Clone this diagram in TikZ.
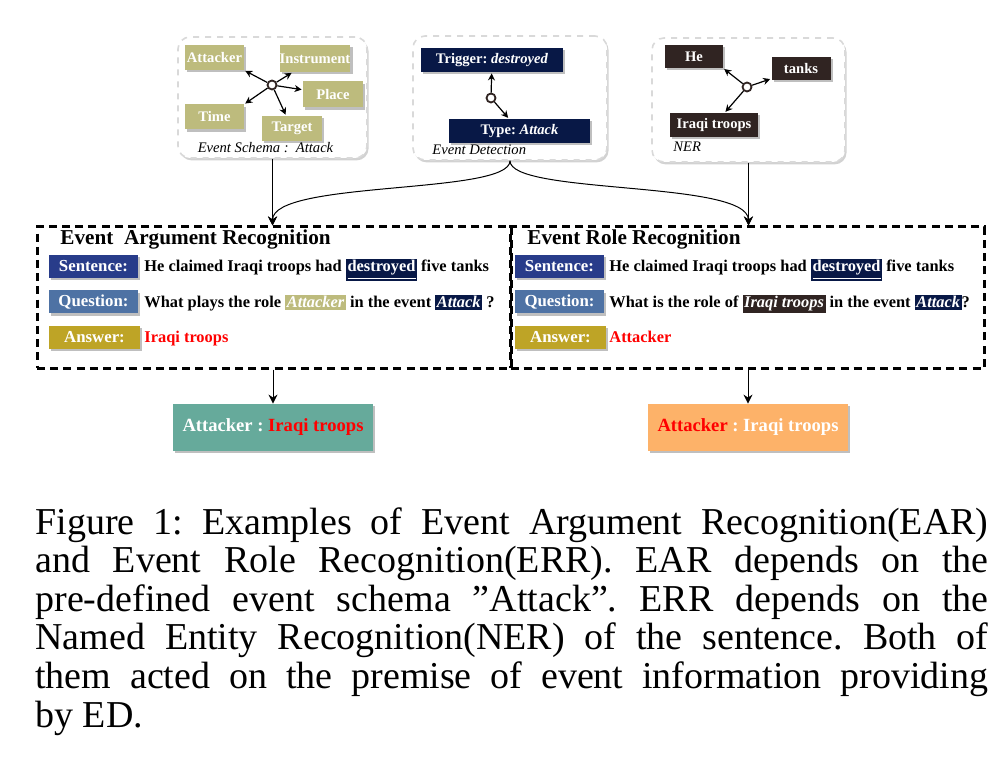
\documentclass[tikz,border=0pt]{standalone}
\usepackage{fontspec}
\setmainfont{Liberation Serif}
\usepackage{tikz}
\usetikzlibrary{positioning,arrows.meta,shadows}
\definecolor{olivec}{RGB}{189,187,125}
\definecolor{navyc}{RGB}{8,24,70}
\definecolor{brownc}{RGB}{48,36,34}
\definecolor{sentc}{RGB}{40,60,138}
\definecolor{questc}{RGB}{78,114,164}
\definecolor{answc}{RGB}{190,164,38}
\definecolor{tealc}{RGB}{102,170,155}
\definecolor{orangec}{RGB}{253,178,105}
\tikzset{
  panel/.style={draw=black!15, dashed, line width=0.8pt, rounded corners=6pt, fill=white,
    drop shadow={shadow xshift=0.8pt, shadow yshift=-1.2pt, fill=black!35, opacity=0.5}},
  tagbox/.style={inner sep=0pt, text=white, font=\fontsize{7.3}{8}\selectfont\bfseries,
    drop shadow={shadow xshift=1.2pt, shadow yshift=-1.2pt, fill=black!25, opacity=1}},
  paneltext/.style={inner sep=0pt, font=\fontsize{7.3}{8}\selectfont\itshape},
  hub/.style={circle, draw=brownc, line width=0.9pt, fill=white, minimum size=4.5pt, inner sep=0pt},
  hubarrow/.style={-{Stealth[length=3.5pt, width=3.5pt]}, line width=0.6pt, shorten >=0.5pt},
  linkarrow/.style={-{Stealth[length=4.5pt, width=4.5pt]}, line width=0.5pt},
  taskbox/.style={draw, line width=1.5pt, dash pattern=on 4pt off 2.6pt,
    minimum width=237pt, minimum height=70.5pt},
  tasktitle/.style={anchor=base west, inner sep=0pt, font=\fontsize{10.6}{12}\selectfont\bfseries},
  rowtag/.style={tagbox, font=\fontsize{8.4}{10}\selectfont\bfseries, minimum width=44.5pt, minimum height=11.5pt},
  rowtext/.style={anchor=base west, inner sep=0pt, font=\fontsize{8.2}{10}\selectfont\bfseries},
  resultbox/.style={tagbox, font=\fontsize{9.3}{11}\selectfont\bfseries, minimum width=100pt, minimum height=23.5pt},
}
\newcommand{\tagword}[2]{{\setlength{\fboxsep}{0.8pt}\colorbox{#1}{\textcolor{white}{#2}}}}
\frenchspacing

\begin{document}
\begin{tikzpicture}[x=0.5pt, y=-0.5pt]
  \useasboundingbox (0,0) rectangle (1004,774);
  % event schema
  \node[panel, minimum width=94.5pt, minimum height=60.5pt] (schema) at (272.5,97.5) {};
  \node[tagbox, fill=olivec, minimum width=29.5pt, minimum height=12.5pt] (att) at (214.5,57.5) {Attacker};
  \node[tagbox, fill=olivec, minimum width=35pt, minimum height=13.5pt] (ins) at (315,58.5) {Instrument};
  \node[tagbox, fill=olivec, minimum width=30pt, minimum height=13pt] (pla) at (333,94.5) {Place};
  \node[tagbox, fill=olivec, minimum width=29.5pt, minimum height=12.5pt] (tim) at (214.5,117) {Time};
  \node[tagbox, fill=olivec, minimum width=30pt, minimum height=12.5pt] (tar) at (292,128.5) {Target};
  \node[hub] (hubs) at (272,85) {};
  \foreach \n in {att.south east,ins,pla,tim.north east,tar} \draw[hubarrow] (hubs) -- (\n);
  \node[paneltext, anchor=base] (schemalbl) at (265.5,153) {Event Schema :~ Attack};
  % event detection
  \node[panel, minimum width=97pt, minimum height=62pt] (ed) at (510,98) {};
  \node[tagbox, fill=navyc, minimum width=71pt, minimum height=12pt] (trig) at (492,60) {Trigger: \textit{destroyed}};
  \node[tagbox, fill=navyc, minimum width=70.5pt, minimum height=12pt] (type) at (519.5,131) {Type: \textit{Attack}};
  \node[hub] (hubd) at (491,98) {};
  \foreach \n in {trig,type} \draw[hubarrow] (hubd) -- (\n);
  \node[paneltext, anchor=base west] (edlbl) at (432,155) {Event Detection};
  % NER
  \node[panel, minimum width=96.5pt, minimum height=62pt] (ner) at (748.5,100) {};
  \node[tagbox, fill=brownc, minimum width=29pt, minimum height=11.5pt] (he) at (694,56.5) {He};
  \node[tagbox, fill=brownc, minimum width=29.5pt, minimum height=11.5pt] (tanks) at (801,68.5) {tanks};
  \node[tagbox, fill=brownc, minimum width=44pt, minimum height=12pt] (iraqi) at (714,125) {Iraqi troops};
  \node[hub] (hubn) at (747,87) {};
  \foreach \n in {he.south east,tanks,iraqi} \draw[hubarrow] (hubn) -- (\n);
  \node[paneltext, anchor=base west] (nerlbl) at (673,152) {NER};
  % task boxes
  \node[taskbox] (ear) at (274,297.5) {};
  \node[taskbox] (err) at (747.5,297.5) {};
  \node[tasktitle] (eartitle) at (60,245) {Event~ Argument Recognition};
  \node[tasktitle] (errtitle) at (527,245) {Event Role Recognition};
  % connectors
  \draw[linkarrow] (schema.south) -- (schema.south |- ear.north);
  \draw[linkarrow] (ner.south) -- (ner.south |- err.north);
  \draw[linkarrow] (ed.south) .. controls (510,195) and (273,180) .. (schema.south |- ear.north);
  \draw[linkarrow] (ed.south) .. controls (510,195) and (748,180) .. (ner.south |- err.north);
  % EAR rows
  \node[rowtag, fill=sentc] (sentl) at (93.5,266.5) {Sentence:};
  \node[rowtag, fill=questc] (questl) at (93.5,302) {Question:};
  \node[rowtag, fill=answc, minimum width=45.5pt] (answl) at (94.5,337.5) {Answer:};
  \node[rowtext] (sentlt) at (144,272) {He claimed Iraqi troops had \tagword{navyc}{\underline{destroyed}} five tanks};
  \node[rowtext] (questlt) at (144,308) {What plays the role \tagword{olivec}{\textit{Attacker}} in the event \tagword{navyc}{\textit{Attack}} ?};
  \node[rowtext, text=red] (answlt) at (144,343) {Iraqi troops};
  % ERR rows
  \node[rowtag, fill=sentc] (sentr) at (559.5,266.5) {Sentence:};
  \node[rowtag, fill=questc] (questr) at (559.5,302) {Question:};
  \node[rowtag, fill=answc, minimum width=45.5pt] (answr) at (560.5,337.5) {Answer:};
  \node[rowtext] (sentrt) at (609,272) {He claimed Iraqi troops had \tagword{navyc}{\underline{destroyed}} five tanks};
  \node[rowtext] (questrt) at (609,308) {What is the role of \tagword{brownc}{\textit{Iraqi troops}} in the event \tagword{navyc}{\textit{Attack}}?};
  \node[rowtext, text=red] (answrt) at (609,343) {Attacker};
  % results
  \node[resultbox, fill=tealc] (resl) at (273,427.5) {\textcolor{white}{Attacker :} \textcolor{red}{Iraqi troops}};
  \node[resultbox, fill=orangec] (resr) at (748,427.5) {\textcolor{red}{Attacker} \textcolor{white}{: Iraqi troops}};
  \draw[linkarrow] (resl.north |- ear.south) -- (resl.north);
  \draw[linkarrow] (resr.north |- err.south) -- (resr.north);
  % caption
  \node[anchor=north west, inner sep=0pt, text width=476.5pt, align=justify, font=\fontsize{19}{19.3}\selectfont] (cap) at (35,507)
    {Figure 1: Examples of Event Argument Recognition(EAR)\linebreak
     and Event Role Recognition(ERR). EAR depends on the\linebreak
     pre-defined event schema ”Attack”. ERR depends on the\linebreak
     Named Entity Recognition(NER) of the sentence. Both of\linebreak
     them acted on the premise of event information providing\linebreak
     by ED.};
\end{tikzpicture}
\end{document}
